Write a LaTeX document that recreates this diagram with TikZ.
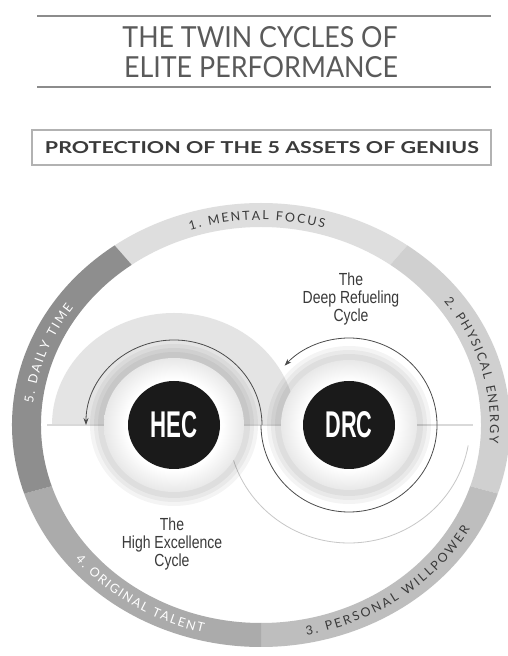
\documentclass[tikz,border=0pt]{standalone}
\usepackage{fontspec}
\usepackage{graphicx}
\setmainfont{Lato}
\setsansfont{Lato}
\newfontfamily\condfont{Liberation Sans}
\usetikzlibrary{calc,decorations.text,arrows.meta,shapes.geometric}
\definecolor{segone}{HTML}{DEDEDE}
\definecolor{segtwo}{HTML}{D0D0D0}
\definecolor{segthree}{HTML}{BEBEBE}
\definecolor{segfour}{HTML}{ABABAB}
\definecolor{segfive}{HTML}{8E8E8E}
\definecolor{darktext}{HTML}{3A3A3A}
\definecolor{titlegray}{HTML}{5A5A5A}
\definecolor{halfdisc}{HTML}{E4E4E4}
\definecolor{discblack}{HTML}{1A1A1A}
\pgfdeclareradialshading{ringshade}{\pgfpoint{0bp}{0bp}}{color(0bp)=(white); color(17bp)=(white); color(25bp)=(black!9); color(50bp)=(black!9)}
\tikzset{
  rulestyle/.style={draw=black!45, line width=1.4pt},
  plaintext/.style={inner sep=0pt, outer sep=0pt},
  arcstyle/.style={draw=black!70, line width=0.8pt, -{Stealth[length=7pt,width=5pt]}},
  disc/.style={ellipse, fill=discblack, minimum width=92pt, minimum height=88pt, inner sep=0pt, text=white, font=\condfont},
  cyclelabel/.style={inner sep=0pt, text=darktext, font=\condfont\fontsize{17.5}{18}\selectfont},
  shadowlayer/.style={fill=black, opacity=0.045},
}
\begin{document}
\begin{tikzpicture}[x=1pt,y=1pt]
\useasboundingbox (0,0) rectangle (507,656);
\fill[white] (0,0) rectangle (507,656);
\coordinate (C) at (261,231);
\coordinate (H) at (174,231);
\coordinate (D) at (349,231);

% title
\draw[rulestyle] (37,640) -- (491,640);
\draw[rulestyle] (37,569) -- (491,569);
\node[plaintext, text=titlegray] (title1) at (260,618.5) {\resizebox{275pt}{21pt}{THE TWIN CYCLES OF}};
\node[plaintext, text=titlegray] (title2) at (261,588.5) {\resizebox{274pt}{21pt}{ELITE PERFORMANCE}};

% subtitle box
\draw[draw=black!30, line width=1.5pt] (32,491) rectangle (491,526);
\node[plaintext, text=darktext] (subtitle) at (262,508.5) {\resizebox{434pt}{12pt}{\bfseries PROTECTION OF THE 5 ASSETS OF GENIUS}};

% outer ring segments
\foreach \a/\b/\c in {54/126/segone, -18/54/segtwo, -90/-18/segthree, 198/270/segfour, 126/198/segfive}{
  \fill[\c] ($(C)+(\a:249 and 222)$) arc[start angle=\a, end angle=\b, x radius=249, y radius=222]
     -- ($(C)+(\b:220 and 198)$) arc[start angle=\b, end angle=\a, x radius=220, y radius=198] -- cycle;
}

% ring texts
\path[decorate, decoration={text along path, text align=fit to path, text color=darktext,
  text={|\fontsize{12.5}{12.5}\selectfont|1. MENTAL FOCUS}}]
  ($(C)+(108:229 and 205)$) arc[start angle=108, end angle=74, x radius=229, y radius=205];
\path[decorate, decoration={text along path, text align=fit to path, text color=darktext,
  text={|\fontsize{12.5}{12.5}\selectfont|2. PHYSICAL ENERGY}}]
  ($(C)+(37:229 and 205)$) arc[start angle=37, end angle=-5, x radius=229, y radius=205];
\path[decorate, decoration={text along path, text align=fit to path, text color=darktext,
  text={|\fontsize{12.5}{12.5}\selectfont|3. PERSONAL WILLPOWER}}]
  ($(C)+(-79:239 and 214)$) arc[start angle=-79, end angle=-29, x radius=239, y radius=214];
\path[decorate, decoration={text along path, text align=fit to path, text color=white,
  text={|\fontsize{12.5}{12.5}\selectfont|4. ORIGINAL TALENT}}]
  ($(C)+(219:239 and 214)$) arc[start angle=219, end angle=256, x radius=239, y radius=214];
\path[decorate, decoration={text along path, text align=fit to path, text color=white,
  text={|\fontsize{12.5}{12.5}\selectfont|5. DAILY TIME}}]
  ($(C)+(174:229 and 205)$) arc[start angle=174, end angle=145, x radius=229, y radius=205];

% HEC big half disc and DRC outer arc
\fill[halfdisc] ($(H)+(-122,0)$) arc[start angle=180, end angle=0, x radius=122, y radius=112] -- cycle;
\draw[draw=black!22, line width=0.8pt] ($(D)+(-121,0)$) arc[start angle=180, end angle=350, x radius=121, y radius=118];

% horizontal line
\draw[draw=black!15, line width=2pt] (47,231) -- (473,231);

% cycle arrows
\draw[arcstyle] ($(H)+(88,0)$) arc[start angle=0, end angle=180, x radius=88, y radius=85];
\draw[arcstyle] ($(D)+(-88,0)$) arc[start angle=180, end angle=497, x radius=88, y radius=87];

% HEC rings
\fill[shadowlayer] (H) ellipse[x radius=84, y radius=81];
\fill[shadowlayer] (H) ellipse[x radius=80, y radius=77];
\fill[shadowlayer] (H) ellipse[x radius=76, y radius=73];
\shade[shading=ringshade] (H) ellipse[x radius=70, y radius=67];
\node[disc] (hec) at (H) {\resizebox{47pt}{26pt}{\bfseries HEC}};

% DRC rings
\fill[shadowlayer] (D) ellipse[x radius=82, y radius=79];
\fill[shadowlayer] (D) ellipse[x radius=78, y radius=75];
\fill[shadowlayer] (D) ellipse[x radius=74, y radius=71];
\shade[shading=ringshade] (D) ellipse[x radius=68, y radius=65];
\node[disc] (drc) at (D) {\resizebox{47pt}{26pt}{\bfseries DRC}};

% labels
\node[cyclelabel] (drclabel) at (351,356) {\scalebox{0.8}[1]{\begin{tabular}{@{}c@{}}The\\Deep Refueling\\Cycle\end{tabular}}};
\node[cyclelabel] (heclabel) at (172,111) {\scalebox{0.8}[1]{\begin{tabular}{@{}c@{}}The\\High Excellence\\Cycle\end{tabular}}};
\end{tikzpicture}
\end{document}
